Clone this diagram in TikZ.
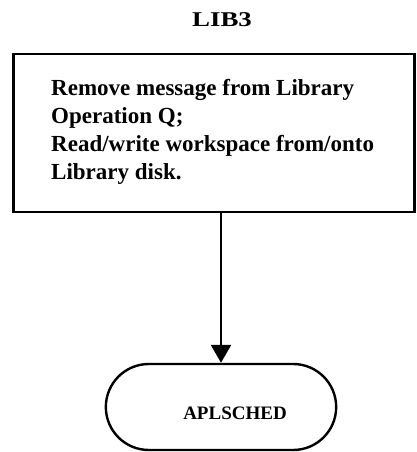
\documentclass[tikz,border=0pt]{standalone}
\usepackage{fontspec}
\setmainfont{Liberation Serif}
\usetikzlibrary{arrows.meta,shapes.misc}
\begin{document}
\begin{tikzpicture}[x=1pt,y=1pt,
  txt/.style={font=\fontsize{23}{28}\selectfont\bfseries,inner sep=0pt},
  procbox/.style={draw,line width=2.6pt,minimum width=401pt,minimum height=158pt,inner sep=0pt},
  term/.style={draw,rounded rectangle,line width=2.4pt,minimum width=237pt,minimum height=86pt},
  flow/.style={line width=2.6pt,-{Triangle[length=18pt,width=20pt]}}]
\useasboundingbox (0,0) rectangle (417,452);
\node[txt,font=\fontsize{21}{24}\selectfont\bfseries,anchor=base] (title) at (222,425) {\scalebox{1.28}[1]{LIB3}};
\node[procbox] (proc) at (214,319) {};
\node[txt,anchor=north west,align=left] (ptext) at (51,373) {Remove message from Library\\Operation Q;\\Read/write workspace from/onto\\Library disk.};
\node[term] (sched) at (221,45) {};
\node[txt,font=\fontsize{19}{20}\selectfont\bfseries,anchor=base] (schedtext) at (235,32) {APLSCHED};
\draw[flow] (proc.south -| sched.north) -- (sched.north);
\end{tikzpicture}
\end{document}
